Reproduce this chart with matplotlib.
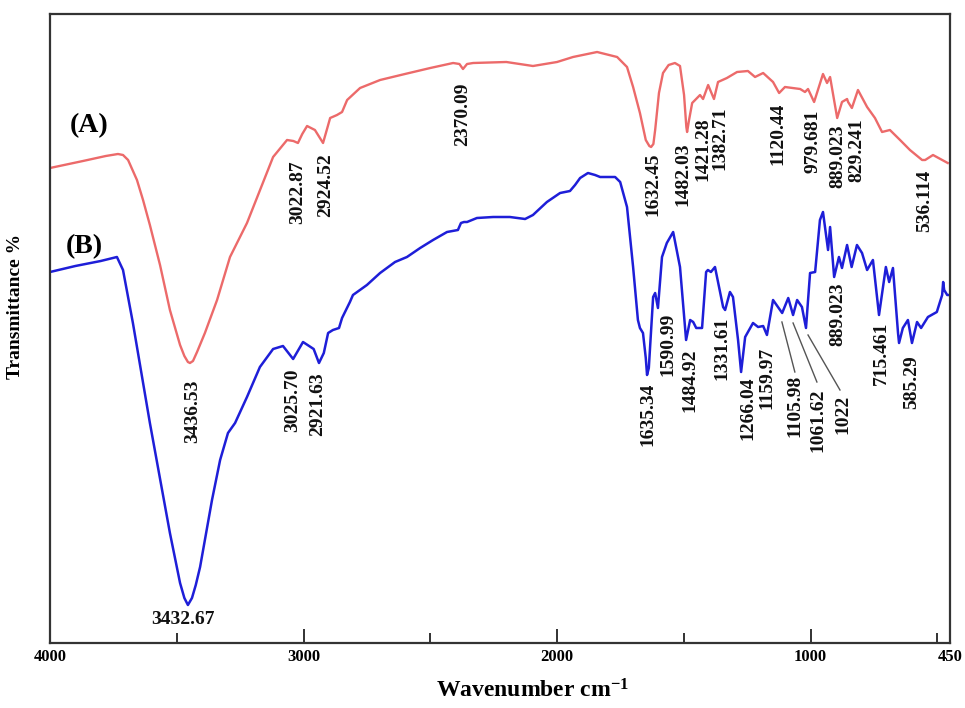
import matplotlib
matplotlib.use("Agg")
import matplotlib.pyplot as plt
from matplotlib.ticker import FixedLocator, NullFormatter

plt.rcParams['font.family'] = ['Liberation Serif', 'DejaVu Serif']
plt.rcParams['font.weight'] = 'bold'
plt.rcParams['mathtext.fontset'] = 'custom'
plt.rcParams['mathtext.rm'] = 'Liberation Serif:bold'
plt.rcParams['mathtext.it'] = 'Liberation Serif:bold'
plt.rcParams['mathtext.bf'] = 'Liberation Serif:bold'

# ---------------- data ----------------
wn_A = [4000, 3870, 3780, 3732, 3712, 3692, 3657, 3633, 3606, 3566, 3527, 3487, 3470,
        3456, 3448, 3436, 3420, 3389, 3341, 3290, 3223, 3120, 3065, 3040, 3022, 3005, 2986,
        2955, 2923, 2905, 2895, 2868, 2848, 2828, 2777, 2698, 2600, 2500, 2410, 2385,
        2371, 2355, 2331, 2200, 2095, 2000, 1937, 1842, 1763, 1724, 1700, 1673, 1650,
        1636, 1629, 1620, 1613, 1598, 1582, 1560, 1535, 1515, 1499, 1490, 1487, 1480,
        1467, 1436, 1424, 1404, 1381, 1365, 1330, 1290, 1247, 1219, 1187, 1148, 1124,
        1101, 1041, 1022, 1010, 986, 951, 935, 923, 895, 876, 856, 852, 837, 813, 777,
        746, 718, 687, 647, 608, 560, 548, 517, 459]
T_A = [47.5, 48.2, 48.7, 48.9, 48.8, 48.3, 46.3, 44.3, 41.8, 37.8, 33.3, 29.8, 28.7,
       28.1, 28.0, 28.2, 29.1, 31.0, 34.3, 38.6, 42.0, 48.6, 50.3, 50.2, 50.0, 50.9, 51.7,
       51.3, 50.0, 51.6, 52.5, 52.8, 53.1, 54.3, 55.5, 56.3, 56.9, 57.5, 58.0, 57.9,
       57.4, 57.9, 58.0, 58.1, 57.7, 58.1, 58.6, 59.1, 58.6, 57.6, 55.6, 53.0, 50.3,
       49.7, 49.6, 49.9, 51.3, 55.0, 57.0, 57.8, 58.0, 57.7, 54.8, 51.6, 51.1, 52.2,
       54.0, 54.8, 54.4, 55.8, 54.4, 56.1, 56.5, 57.1, 57.2, 56.6, 57.0, 56.1, 55.0,
       55.6, 55.4, 55.1, 55.4, 54.1, 56.9, 56.0, 56.6, 52.5, 54.1, 54.4, 54.1, 53.5,
       55.3, 53.6, 52.5, 51.1, 51.3, 50.3, 49.3, 48.3, 48.3, 48.8, 48.0]

wn_B = [4000, 3900, 3800, 3736, 3712, 3692, 3673, 3657, 3606, 3527, 3487, 3470, 3456,
        3440, 3425, 3408, 3361, 3329, 3298, 3270, 3223, 3172, 3120, 3081, 3041, 3002, 2960,
        2939, 2920, 2903, 2884, 2860, 2848, 2817, 2805, 2750, 2698, 2639, 2592, 2540,
        2489, 2434, 2391, 2379, 2367, 2355, 2316, 2252, 2186, 2126, 2095, 2040, 1988,
        1949, 1929, 1909, 1878, 1850, 1830, 1771, 1751, 1724, 1700, 1681, 1673, 1661,
        1650, 1645, 1638, 1621, 1613, 1602, 1586, 1567, 1542, 1515, 1495, 1491, 1475,
        1463, 1451, 1428, 1412, 1405, 1393, 1377, 1345, 1337, 1318, 1306, 1286, 1274,
        1258, 1227, 1207, 1187, 1172, 1148, 1112, 1088, 1069, 1053, 1034, 1018, 1002,
        982, 963, 951, 931, 923, 907, 888, 876, 856, 838, 817, 797, 777, 754, 730, 703,
        690, 675, 655, 651, 636, 616, 600, 580, 564, 537, 502, 481, 477, 473, 461, 450]
T_B = [37.1, 37.7, 38.2, 38.6, 37.3, 34.6, 32.0, 29.6, 22.0, 11.0, 6.0, 4.5, 3.8,
       4.5, 5.8, 7.6, 14.3, 18.3, 21.0, 22.0, 24.6, 27.6, 29.4, 29.7, 28.4, 30.1, 29.4,
       28.0, 29.0, 31.0, 31.3, 31.5, 32.5, 34.1, 34.8, 35.8, 37.0, 38.1, 38.6, 39.5,
       40.3, 41.1, 41.3, 42.0, 42.1, 42.1, 42.5, 42.6, 42.6, 42.4, 42.8, 44.1, 45.0,
       45.2, 45.8, 46.5, 47.0, 46.8, 46.6, 46.6, 46.1, 43.6, 37.6, 32.3, 31.5, 31.0,
       28.5, 26.8, 27.5, 34.6, 35.0, 33.5, 38.6, 40.0, 41.1, 37.6, 31.6, 30.3, 32.3,
       32.1, 31.5, 31.5, 37.1, 37.3, 37.1, 37.6, 33.6, 33.3, 35.1, 34.6, 30.3, 27.1,
       30.6, 32.0, 31.6, 31.7, 30.8, 34.3, 33.0, 34.5, 32.8, 34.3, 33.6, 31.5, 37.0,
       37.1, 42.3, 43.1, 39.3, 41.6, 36.6, 38.6, 37.5, 39.8, 37.6, 39.8, 39.0, 37.3,
       38.3, 32.8, 37.6, 36.1, 37.5, 31.0, 30.0, 31.5, 32.3, 30.0, 32.1, 31.5, 32.6,
       33.1, 34.8, 36.1, 35.3, 34.8, 34.8]

# peak labels: (text, wavenumber position, top of text)
labels_A = [("3436.53", 3436, 26.3), ("3022.87", 3022, 48.3), ("2924.52", 2911, 49.0),
            ("2370.09", 2371, 56.1), ("1632.45", 1622, 49.1), ("1482.03", 1503, 50.0),
            ("1421.28", 1424, 52.6), ("1382.71", 1357, 53.6), ("1120.44", 1129, 54.0),
            ("979.681", 991, 53.3), ("889.023", 892, 51.8), ("829.241", 817, 52.5),
            ("536.114", 549, 47.3)]
labels_B = [("3025.70", 3042, 27.5), ("2921.63", 2943, 27.1), ("1635.34", 1641, 26.0),
            ("1590.99", 1563, 33.0), ("1484.92", 1476, 29.5), ("1331.61", 1350, 32.6),
            ("1266.04", 1247, 26.6), ("1159.97", 1172, 29.6), ("1105.98", 1062, 26.8),
            ("1061.62", 971, 25.5), ("1022", 872, 24.8), ("889.023", 892, 36.1),
            ("715.461", 719, 32.1), ("585.29", 600, 28.8)]
leaders = [((1113, 32.1), (1062, 27.1)), ((1069, 32.0), (975, 26.1)),
           ((1010, 30.8), (884, 25.3))]

xtick_major = [4000, 3000, 2000, 1000, 450]
xtick_minor = [3500, 2500, 1500, 500]

# ---------------- figure ----------------
fig = plt.figure(figsize=(9.65, 7.08), dpi=100)
ax = fig.add_axes([50 / 965, 65 / 708, 900 / 965, 629 / 708])

ax.plot(wn_A, T_A, color='#EC6A6A', lw=1.7, solid_joinstyle='round')
ax.plot(wn_B, T_B, color='#1E1ED8', lw=1.8, solid_joinstyle='round')

ax.set_xlim(4000, 450)
ax.set_ylim(0, 62.9)
ax.set_yticks([])
ax.xaxis.set_major_locator(FixedLocator(xtick_major))
ax.xaxis.set_minor_locator(FixedLocator(xtick_minor))
ax.xaxis.set_minor_formatter(NullFormatter())
ax.set_xticklabels([str(v) for v in xtick_major])
ax.tick_params(axis='x', which='major', direction='in', length=10, width=1.3,
               pad=4, labelsize=12, color='#222222')
ax.tick_params(axis='x', which='minor', direction='in', length=7, width=1.3,
               color='#222222')
for lab in ax.get_xticklabels():
    lab.set_fontweight('bold')
for s in ax.spines.values():
    s.set_linewidth(1.6)
    s.set_color('#333333')

for txt, x, y in labels_A + labels_B:
    ax.text(x, y, txt, rotation=90, ha='center', va='top', fontsize=14,
            fontweight='bold', color='#111111')

ax.text(3475, 2.4, "3432.67", ha='center', va='center', fontsize=14,
        fontweight='bold', color='#111111')

for (x0, y0), (x1, y1) in leaders:
    ax.plot([x0, x1], [y0, y1], color='#555555', lw=1.0)

ax.text(3845, 51.7, "(A)", ha='center', va='center', fontsize=20, fontweight='bold')
ax.text(3865, 39.6, "(B)", ha='center', va='center', fontsize=20, fontweight='bold')

fig.text(16 / 965, 1 - 306 / 708, "Transmittance %", rotation=90, ha='center',
         va='center', fontsize=14, fontweight='bold')
fig.text(532 / 965, 1 - 691 / 708, r"Wavenumber cm$^{-1}$", ha='center', va='center',
         fontsize=17, fontweight='bold')

fig.savefig("out.png", dpi=100)
